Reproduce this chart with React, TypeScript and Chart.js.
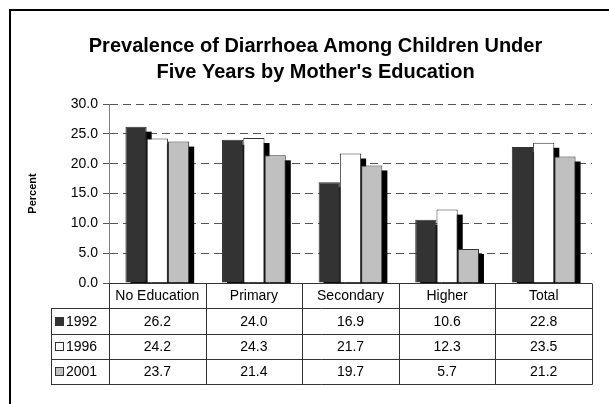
import React, { useEffect, useRef } from "react";
import { Chart, registerables } from "chart.js";

Chart.register(...registerables);

const categories = ["No Education", "Primary", "Secondary", "Higher", "Total"];
const seriesLabels = ["1992", "1996", "2001"];
const values1992 = [26.2, 24.0, 16.9, 10.6, 22.8];
const values1996 = [24.2, 24.3, 21.7, 12.3, 23.5];
const values2001 = [23.7, 21.4, 19.7, 5.7, 21.2];
const seriesColors = ["#333333", "#ffffff", "#c0c0c0"];
const titleLines = ["Prevalence of Diarrhoea Among Children Under", "Five Years by Mother's Education"];
const yTitle = "Percent";
const yMin = 0;
const yMax = 30;
const yStep = 5;

const FONT = "'Liberation Sans', Arial, sans-serif";

const framePlugin = {
  id: "frameAndTitle",
  beforeDraw(chart: any) {
    const ctx = chart.ctx;
    ctx.save();
    ctx.fillStyle = "#ffffff";
    ctx.fillRect(0, 0, chart.width, chart.height);
    ctx.fillStyle = "#000000";
    ctx.fillRect(9, 9, chart.width - 9, 2);
    ctx.fillRect(9, 9, 2, chart.height - 9);
    ctx.font = `bold 20px ${FONT}`;
    ctx.textAlign = "center";
    ctx.textBaseline = "alphabetic";
    ctx.fillText(titleLines[0], 315.5, 52);
    ctx.fillText(titleLines[1], 315.5, 78);
    ctx.restore();
  },
};

const shadowPlugin = {
  id: "barShadow",
  beforeDatasetsDraw(chart: any) {
    const ctx = chart.ctx;
    const area = chart.chartArea;
    ctx.save();
    ctx.beginPath();
    ctx.rect(area.left, area.top - 10, area.right - area.left + 10, area.bottom - area.top + 10);
    ctx.clip();
    ctx.fillStyle = "#000000";
    chart.data.datasets.forEach((_: any, di: number) => {
      const meta = chart.getDatasetMeta(di);
      meta.data.forEach((el: any) => {
        const p = el.getProps(["x", "y", "base", "width"], true);
        const off = 5;
        ctx.fillRect(p.x - p.width / 2 + off, p.y + off, p.width, p.base - p.y);
      });
    });
    ctx.restore();
  },
};

const tablePlugin = {
  id: "dataTable",
  afterDraw(chart: any) {
    const ctx = chart.ctx;
    const area = chart.chartArea;
    const xs = chart.scales.x;
    const n = categories.length;
    const colW = (area.right - area.left) / n;
    const top = area.bottom;
    const rowH = 25.25;
    const labelLeft = 51;
    const bottom = top + rowH * (seriesLabels.length + 1);
    const rows = [values1992, values1996, values2001];
    const px = (v: number) => Math.round(v) + 0.5;

    ctx.save();
    ctx.strokeStyle = "#333333";
    ctx.lineWidth = 1;
    ctx.beginPath();
    // top line of header
    ctx.moveTo(area.left, px(top));
    ctx.lineTo(area.right, px(top));
    for (let r = 1; r <= seriesLabels.length + 1; r++) {
      const y = px(top + r * rowH);
      ctx.moveTo(labelLeft, y);
      ctx.lineTo(px(area.right), y);
    }
    for (let i = 0; i <= n; i++) {
      const x = px(area.left + i * colW);
      ctx.moveTo(x, px(top));
      ctx.lineTo(x, px(bottom));
    }
    ctx.moveTo(px(labelLeft), px(top + rowH));
    ctx.lineTo(px(labelLeft), px(bottom));
    ctx.stroke();

    ctx.fillStyle = "#000000";
    ctx.font = `14px ${FONT}`;
    ctx.textAlign = "center";
    ctx.textBaseline = "middle";
    categories.forEach((c, i) => {
      ctx.fillText(c, xs.getPixelForValue(i), top + rowH / 2 + 1);
    });
    rows.forEach((vals, r) => {
      const cy = top + (r + 1) * rowH + rowH / 2 + 1;
      vals.forEach((v, i) => {
        ctx.fillText(v.toFixed(1), xs.getPixelForValue(i), cy);
      });
      // legend swatch
      const sy = Math.round(cy - 5);
      ctx.fillStyle = seriesColors[r];
      ctx.fillRect(55, sy, 8, 8);
      ctx.strokeStyle = "#333333";
      ctx.strokeRect(55.5, sy + 0.5, 8, 8);
      ctx.fillStyle = "#000000";
      ctx.textAlign = "left";
      ctx.fillText(seriesLabels[r], 66, cy);
      ctx.textAlign = "center";
    });
    ctx.restore();
  },
};

export default function App() {
  const canvasRef = useRef<HTMLCanvasElement | null>(null);

  useEffect(() => {
    if (!canvasRef.current) return;
    const seriesValues = [values1992, values1996, values2001];
    const chart = new Chart(canvasRef.current, {
      type: "bar",
      data: {
        labels: categories,
        datasets: seriesLabels.map((label, i) => ({
          label,
          data: seriesValues[i],
          backgroundColor: seriesColors[i],
          borderColor: "#333333",
          borderWidth: 1,
          categoryPercentage: 0.66,
          barPercentage: 1.0,
        })),
      },
      options: {
        responsive: false,
        animation: false,
        devicePixelRatio: 1,
        layout: { padding: { left: 22, right: 17, top: 104, bottom: 121 } },
        plugins: {
          legend: { display: false },
          title: { display: false },
          tooltip: { enabled: false },
        },
        scales: {
          x: {
            display: false,
          },
          y: {
            min: yMin,
            max: yMax,
            afterFit: (scale: any) => {
              scale.width = 87;
            },
            ticks: {
              stepSize: yStep,
              color: "#000000",
              padding: 5,
              font: { family: FONT, size: 14 },
              callback: (v: any) => Number(v).toFixed(1),
            },
            grid: {
              color: (c: any) => (c.tick && c.tick.value === 0 ? "rgba(0,0,0,0)" : "#555555"),
              tickColor: "#555555",
              tickLength: 6,
              lineWidth: 1,
            },
            border: {
              display: true,
              color: "#808080",
              dash: [8, 5],
            },
            title: {
              display: true,
              text: yTitle,
              color: "#000000",
              font: { family: FONT, size: 11, weight: "bold" },
            },
          },
        },
      },
      plugins: [framePlugin, shadowPlugin, tablePlugin],
    });
    return () => chart.destroy();
  }, []);

  return (
    <div style={{ position: "fixed", left: 0, top: 0, width: 609, height: 404 }}>
      <canvas ref={canvasRef} width={609} height={404} style={{ display: "block" }} />
    </div>
  );
}
